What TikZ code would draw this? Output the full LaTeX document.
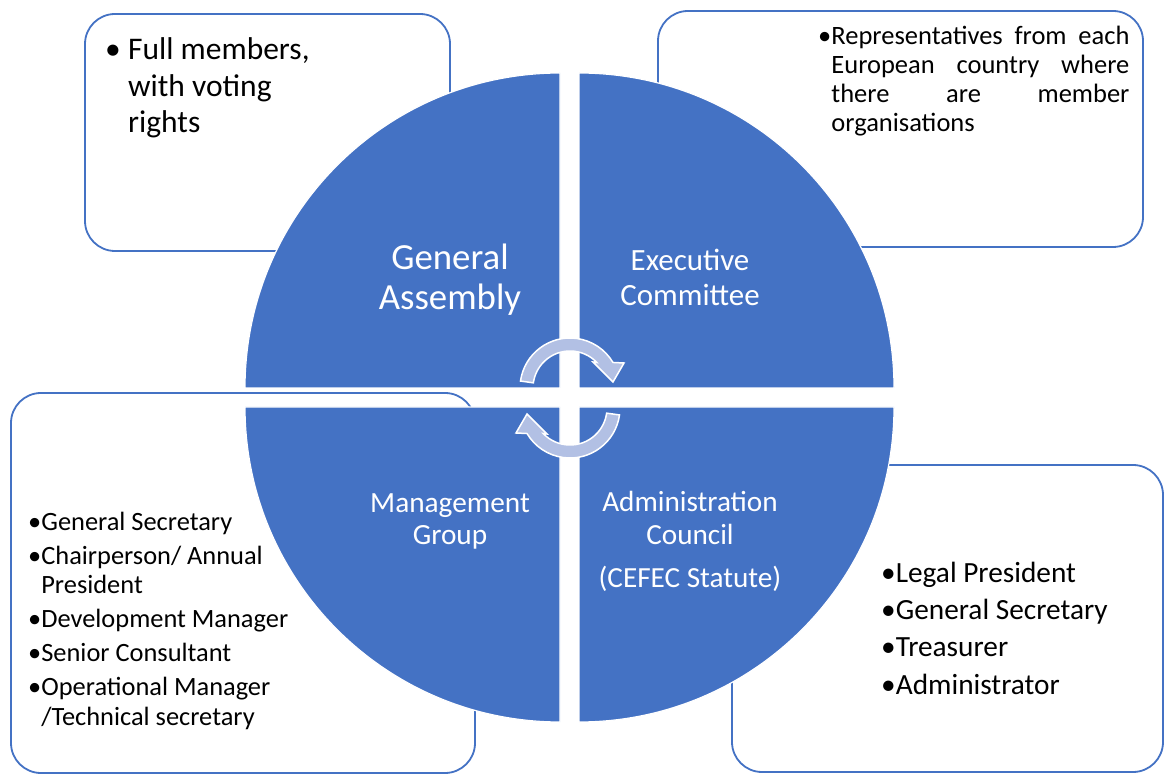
\documentclass[tikz,border=0pt]{standalone}
\usepackage{fontspec}
\setmainfont{Carlito}
\definecolor{quadblue}{RGB}{68,114,196}
\definecolor{cyclefill}{RGB}{178,192,228}
\begin{document}
\begin{tikzpicture}[x=1pt,y=1pt,quadrant/.style={fill=quadblue,draw=white,line width=1.2pt}]
		\tikzstyle{infobox}=[draw=quadblue,line width=1.8pt,rounded corners=30pt,fill=white]
		\tikzstyle{quadtext}=[text=white,align=center,inner sep=0pt]
		\tikzstyle{itemtext}=[anchor=base west,align=left,inner sep=0pt,text=black]
		\tikzstyle{cyclearrow}=[fill=cyclefill,draw=white,line width=1.5pt]
		\useasboundingbox (0,0) rectangle (1164,774);
		
		% boxes behind the circle
		\draw[infobox] (85,523) rectangle (450,760);
		\draw[infobox] (658,527) rectangle (1143,763);
		\draw[infobox] (11,1) rectangle (475,381);
		\draw[infobox] (732,2) rectangle (1163,309);
		
		% four quarters
		\path[quadrant] (560,386) -- ++(-315,0) arc[start angle=180,end angle=90,radius=315pt] -- cycle;
		\path[quadrant] (579,386) -- ++(0,315) arc[start angle=90,end angle=0,radius=315pt] -- cycle;
		\path[quadrant] (560,367) -- ++(-315,0) arc[start angle=180,end angle=270,radius=315pt] -- cycle;
		\path[quadrant] (579,367) -- ++(0,-315) arc[start angle=270,end angle=360,radius=315pt] -- cycle;
		
		\node[quadtext,font=\fontsize{36.8}{40}\selectfont] (ga) at (450,494) {General\\Assembly};
		\node[quadtext,font=\fontsize{30.9}{35}\selectfont] (ec) at (690,497) {Executive\\Committee};
		\node[quadtext,font=\fontsize{29.3}{32}\selectfont] (mg) at (450,253) {Management\\Group};
		\node[quadtext,font=\fontsize{29.2}{33}\selectfont] (ac) at (690,233) {Administration\\Council\\[10pt](CEFEC Statute)};
		
		% cycle arrows in the middle
		\foreach \r in {0,180}
		{\path[cyclearrow,shift={(570,376)},rotate=\r,shift={(0,10)}]
			(172:50pt) arc[start angle=172,end angle=30.7,radius=50pt] -- (54pt,25pt) -- (43pt,6pt) -- (23pt,26pt)
			-- (43.6:37pt) arc[start angle=43.6,end angle=172,radius=37pt] -- cycle;}
		
		% texts in the boxes (base = last line)
		\node[itemtext,font=\fontsize{31.5}{36.5}\selectfont] (full) at (105,641)
		{\makebox[23pt][l]{\textbullet}Full members,\\\hspace*{23pt}with voting\\\hspace*{23pt}rights};
		\node[itemtext,font=\fontsize{26.5}{29}\selectfont] (repr) at (818,642)
		{\textbullet\makebox[298pt][s]{Representatives from each}\\
			\phantom{\textbullet}\makebox[298pt][s]{European country where}\\
			\phantom{\textbullet}\makebox[298pt][s]{there are member}\\
			\phantom{\textbullet}organisations};
		\node[itemtext,font=\fontsize{26.4}{29.5}\selectfont] (mgmt) at (28,49)
		{\textbullet General Secretary\\[4.5pt]
			\textbullet Chairperson/ Annual\\
			\phantom{\textbullet}President\\[4.5pt]
			\textbullet Development Manager\\[4.5pt]
			\textbullet Senior Consultant\\[4.5pt]
			\textbullet Operational Manager\\
			\phantom{\textbullet}/Technical secretary};
		\node[itemtext,font=\fontsize{29.3}{37.3}\selectfont] (admin) at (881,80)
		{\textbullet Legal President\\
			\textbullet General Secretary\\
			\textbullet Treasurer\\
			\textbullet Administrator};
		
		\end{tikzpicture}
\end{document}
